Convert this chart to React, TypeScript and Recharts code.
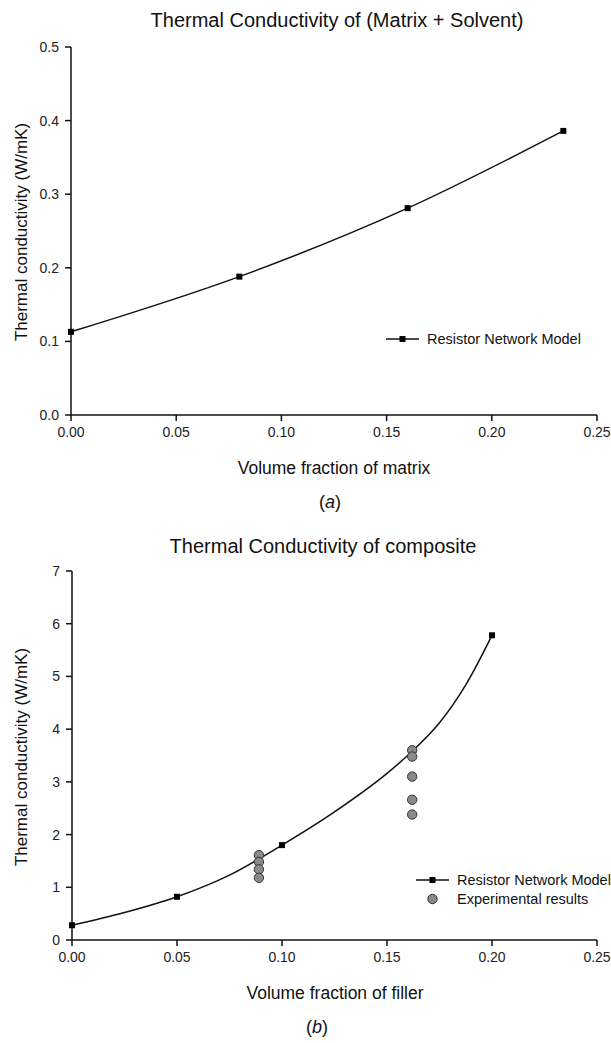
import { ComposedChart, Line, Scatter, XAxis, YAxis } from 'recharts';

// (a) matrix + solvent
const matrixFraction = [0, 0.08, 0.16, 0.234];
const matrixConductivity = [0.113, 0.188, 0.281, 0.386];

// (b) composite - model markers
const fillerFraction = [0, 0.05, 0.1, 0.2];
const compositeConductivity = [0.28, 0.82, 1.8, 5.78];

// (b) model curve
const curveFraction = [0, 0.025, 0.05, 0.075, 0.1, 0.125, 0.15, 0.162, 0.175, 0.1875, 0.2];
const curveConductivity = [0.28, 0.52, 0.82, 1.23, 1.8, 2.43, 3.16, 3.58, 4.12, 4.84, 5.78];

// (b) experimental results
const expFraction = [0.089, 0.089, 0.089, 0.089, 0.162, 0.162, 0.162, 0.162, 0.162];
const expConductivity = [1.61, 1.48, 1.34, 1.18, 3.6, 3.48, 3.1, 2.66, 2.38];

const xTicks = [0, 0.05, 0.1, 0.15, 0.2, 0.25];
const yTicksA = [0, 0.1, 0.2, 0.3, 0.4, 0.5];
const yTicksB = [0, 1, 2, 3, 4, 5, 6, 7];

const FONT = '"Liberation Sans", Arial, sans-serif';
const INK = '#111';

const lineA = matrixFraction.map((x, i) => ({ x, y: matrixConductivity[i] }));
const markersB = fillerFraction.map((x, i) => ({ x, y: compositeConductivity[i] }));
const curveB = curveFraction.map((x, i) => ({ x, y: curveConductivity[i] }));
const expPoints = expFraction.map((x, i) => ({ x, y: expConductivity[i] }));

const SquareDot = (props: any) => {
  const { cx, cy, index } = props;
  return <rect key={index} x={cx - 3} y={cy - 3} width={6} height={6} fill="#000" />;
};

const GreyCircle = (props: any) => {
  const { cx, cy } = props;
  return <circle cx={cx} cy={cy} r={4.7} fill="#8a8a8a" stroke="#333" strokeWidth={1} />;
};

const tickStyle = { fontSize: 14, fill: '#222', fontFamily: FONT };
const axisLine = { stroke: INK, strokeWidth: 1.5 };

function Text({ x, y, size, children }: any) {
  return (
    <div
      style={{
        position: 'absolute',
        left: x,
        top: y,
        transform: 'translate(-50%, -50%)',
        fontSize: size,
        whiteSpace: 'nowrap',
        color: '#111',
      }}
    >
      {children}
    </div>
  );
}

function YLabel({ y }: { y: number }) {
  return (
    <div
      style={{
        position: 'absolute',
        left: 22,
        top: y,
        transform: 'translate(-50%, -50%) rotate(-90deg)',
        fontSize: 17,
        whiteSpace: 'nowrap',
        color: '#111',
      }}
    >
      Thermal conductivity (W/mK)
    </div>
  );
}

function LegendRow({ x, y, kind, label }: any) {
  return (
    <div style={{ position: 'absolute', left: x, top: y - 9, height: 18, display: 'flex', alignItems: 'center' }}>
      <svg width={34} height={18}>
        {kind === 'line' ? (
          <>
            <line x1={0} y1={9} x2={33} y2={9} stroke={INK} strokeWidth={1.5} />
            <rect x={13.5} y={6} width={6} height={6} fill="#000" />
          </>
        ) : (
          <circle cx={16.5} cy={9} r={4.7} fill="#8a8a8a" stroke="#333" strokeWidth={1} />
        )}
      </svg>
      <span style={{ fontSize: 14.5, marginLeft: 7, whiteSpace: 'nowrap', color: '#111' }}>{label}</span>
    </div>
  );
}

export default function App() {
  return (
    <div style={{ position: 'absolute', left: 0, top: 0, width: 611, height: 1043, background: '#fff', fontFamily: FONT, overflow: 'hidden' }}>
      <Text x={337} y={20} size={20}>Thermal Conductivity of (Matrix + Solvent)</Text>
      <div style={{ position: 'absolute', left: 0, top: 0 }}>
        <ComposedChart width={640} height={470} margin={{ top: 47, right: 43, left: 0, bottom: 25 }}>
          <XAxis
            type="number"
            dataKey="x"
            domain={[0, 0.25]}
            ticks={xTicks}
            tickFormatter={(v: number) => v.toFixed(2)}
            tick={tickStyle}
            axisLine={axisLine}
            tickLine={axisLine}
            tickSize={6}
            tickMargin={6}
            height={30}
            interval={0}
          />
          <YAxis
            type="number"
            dataKey="y"
            domain={[0, 0.5]}
            ticks={yTicksA}
            tickFormatter={(v: number) => v.toFixed(1)}
            tick={tickStyle}
            axisLine={axisLine}
            tickLine={axisLine}
            tickSize={6}
            tickMargin={6}
            width={71}
            interval={0}
          />
          <Line
            data={lineA}
            dataKey="y"
            type="monotone"
            stroke={INK}
            strokeWidth={1.5}
            dot={SquareDot}
            activeDot={false}
            isAnimationActive={false}
          />
        </ComposedChart>
      </div>
      <YLabel y={232} />
      <LegendRow x={386} y={339} kind="line" label="Resistor Network Model" />
      <Text x={334} y={468} size={17.5}>Volume fraction of matrix</Text>
      <Text x={330} y={502} size={18}>
        (<i>a</i>)
      </Text>

      <Text x={323} y={546} size={20}>Thermal Conductivity of composite</Text>
      <div style={{ position: 'absolute', left: 0, top: 520 }}>
        <ComposedChart width={640} height={475} margin={{ top: 51, right: 43, left: 0, bottom: 25 }}>
          <XAxis
            type="number"
            dataKey="x"
            domain={[0, 0.25]}
            ticks={xTicks}
            tickFormatter={(v: number) => v.toFixed(2)}
            tick={tickStyle}
            axisLine={axisLine}
            tickLine={axisLine}
            tickSize={6}
            tickMargin={6}
            height={30}
            interval={0}
          />
          <YAxis
            type="number"
            dataKey="y"
            domain={[0, 7]}
            ticks={yTicksB}
            tick={tickStyle}
            axisLine={axisLine}
            tickLine={axisLine}
            tickSize={6}
            tickMargin={6}
            width={72}
            interval={0}
          />
          <Line
            data={curveB}
            dataKey="y"
            type="monotone"
            stroke={INK}
            strokeWidth={1.5}
            dot={false}
            activeDot={false}
            isAnimationActive={false}
          />
          <Line
            data={markersB}
            dataKey="y"
            stroke="none"
            dot={SquareDot}
            activeDot={false}
            isAnimationActive={false}
          />
          <Scatter data={expPoints} dataKey="y" shape={GreyCircle} isAnimationActive={false} />
        </ComposedChart>
      </div>
      <YLabel y={757} />
      <LegendRow x={416} y={880} kind="line" label="Resistor Network Model" />
      <LegendRow x={416} y={899} kind="circle" label="Experimental results" />
      <Text x={335} y={993} size={17.5}>Volume fraction of filler</Text>
      <Text x={317} y={1027} size={18}>
        (<i>b</i>)
      </Text>
    </div>
  );
}
